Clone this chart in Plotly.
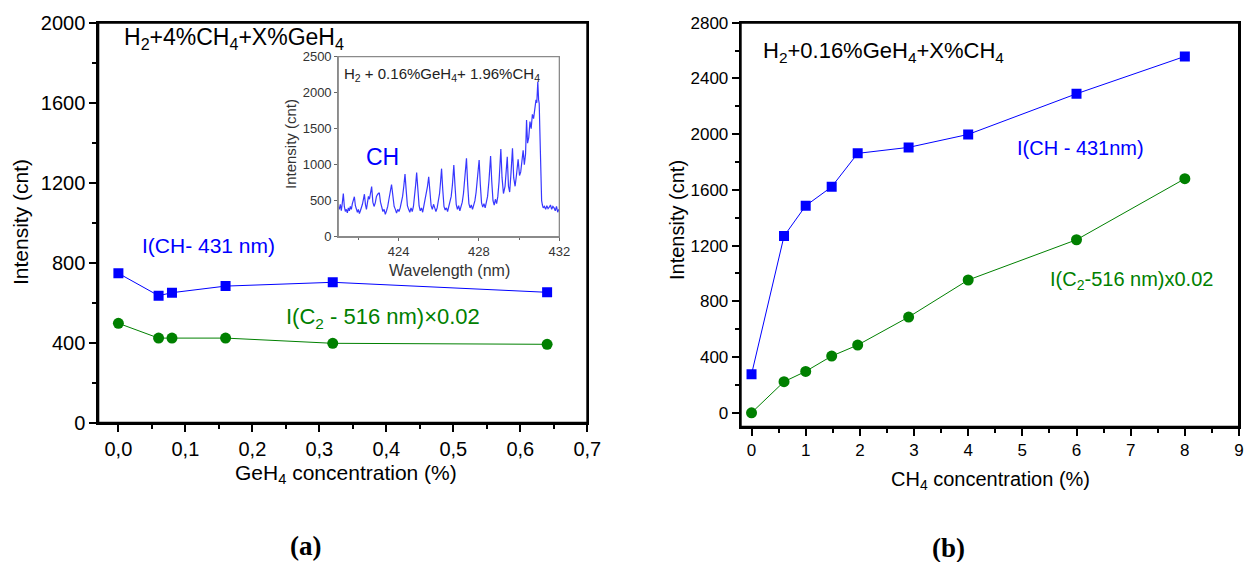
import plotly.graph_objects as go

# ---- (a) H2 + 4% CH4 + X% GeH4 ----
geh4_conc = [0.0, 0.06, 0.08, 0.16, 0.32, 0.64]
ch_431_a = [747, 635, 650, 683, 702, 652]
c2_516_a = [497, 423, 423, 423, 397, 392]
xa_tickvals = [0.0, 0.1, 0.2, 0.3, 0.4, 0.5, 0.6, 0.7]
xa_ticktext = ["0,0", "0,1", "0,2", "0,3", "0,4", "0,5", "0,6", "0,7"]

# ---- inset: CH emission band, H2 + 0.16% GeH4 + 1.96% CH4 ----
wavelength = [
    421.00, 421.05, 421.10, 421.15, 421.20, 421.25, 421.30, 421.35, 421.40, 421.45,
    421.50, 421.55, 421.60, 421.65, 421.70, 421.75, 421.80, 421.85, 421.90, 421.95,
    422.00, 422.05, 422.10, 422.15, 422.20, 422.25, 422.30, 422.35, 422.40, 422.45,
    422.50, 422.55, 422.60, 422.66, 422.72, 422.78, 422.84, 422.90, 422.96, 423.04,
    423.10, 423.16, 423.22, 423.28, 423.34, 423.40, 423.46, 423.52, 423.58, 423.65,
    423.72, 423.78, 423.84, 423.90, 423.96, 424.02, 424.08, 424.14, 424.20, 424.26,
    424.32, 424.38, 424.44, 424.50, 424.56, 424.62, 424.68, 424.74, 424.80, 424.85,
    424.90, 424.96, 425.02, 425.08, 425.14, 425.20, 425.26, 425.32, 425.38, 425.44,
    425.50, 425.56, 425.62, 425.68, 425.74, 425.80, 425.86, 425.92, 425.98, 426.04,
    426.09, 426.14, 426.20, 426.26, 426.32, 426.38, 426.44, 426.50, 426.56, 426.62,
    426.68, 426.75, 426.81, 426.87, 426.93, 426.99, 427.05, 427.11, 427.17, 427.23,
    427.30, 427.38, 427.44, 427.50, 427.56, 427.62, 427.68, 427.74, 427.80, 427.86,
    427.93, 428.01, 428.07, 428.13, 428.19, 428.25, 428.31, 428.37, 428.43, 428.50,
    428.58, 428.64, 428.70, 428.76, 428.82, 428.88, 428.94, 429.00, 429.09, 429.15,
    429.22, 429.30, 429.41, 429.47, 429.53, 429.60, 429.67, 429.73, 429.80, 429.87,
    429.95, 430.02, 430.08, 430.14, 430.20, 430.26, 430.32, 430.37, 430.42, 430.48,
    430.54, 430.60, 430.66, 430.72, 430.78, 430.84, 430.88, 430.93, 430.97, 431.00,
    431.03, 431.06, 431.09, 431.12, 431.16, 431.20, 431.26, 431.32, 431.38, 431.44,
    431.50, 431.56, 431.62, 431.68, 431.74, 431.80, 431.86, 431.92, 431.98,
]
spectrum_cnt = [
    420, 380, 450, 360, 470, 600, 420, 350, 380, 330,
    400, 360, 420, 380, 460, 500, 555, 430, 370, 340,
    380, 320, 360, 400, 450, 520, 590, 450, 380, 470,
    560, 520, 600, 695, 480, 420, 470, 560, 590, 610,
    480, 400, 350, 380, 310, 360, 420, 520, 620, 725,
    560, 420, 380, 330, 380, 350, 400, 470, 560, 700,
    870, 640, 430, 380, 340, 400, 350, 420, 560, 720,
    890, 640, 430, 360, 400, 340, 420, 500, 580, 700,
    833, 600, 430, 380, 450, 400, 350, 400, 480, 600,
    760, 945, 650, 420, 370, 400, 350, 420, 460, 560,
    720, 995, 700, 450, 380, 430, 360, 420, 480, 600,
    800, 1088, 720, 460, 400, 440, 380, 430, 500, 620,
    820, 1065, 720, 470, 410, 460, 400, 480, 560, 780,
    1120, 760, 500, 440, 520, 460, 560, 760, 1218, 820,
    600, 700, 1110, 700, 620, 900, 1227, 820, 700, 860,
    1075, 850, 900, 1050, 1200, 1000, 1150, 1620, 1300, 1380,
    1600, 1500, 1700, 1640, 1800, 1900, 1860, 2150, 1900, 1850,
    1500, 1000, 700, 500, 440, 400, 420, 380, 430, 390,
    410, 440, 380, 420, 400, 360, 420, 340, 380,
]

# ---- (b) H2 + 0.16% GeH4 + X% CH4 ----
ch4_conc = [0.0, 0.6, 1.0, 1.48, 1.96, 2.9, 4.0, 6.0, 8.0]
ch_431_b = [276, 1268, 1486, 1622, 1862, 1905, 1998, 2290, 2558]
c2_516_b = [0, 223, 297, 407, 486, 687, 953, 1242, 1680]

BLUE = "#0000FF"
GREEN = "#008000"
FONT = "Liberation Sans"
SERIF = "Liberation Serif"
W, H = 1244, 562


def px(x):
    return x / W


def py(y):
    return 1 - y / H


fig = go.Figure()

# panel (a)
fig.add_trace(go.Scatter(x=geh4_conc, y=ch_431_a, mode="lines+markers",
                         line=dict(color=BLUE, width=1),
                         marker=dict(symbol="square", size=10, color=BLUE),
                         xaxis="x", yaxis="y", showlegend=False))
fig.add_trace(go.Scatter(x=geh4_conc, y=c2_516_a, mode="lines+markers",
                         line=dict(color=GREEN, width=1),
                         marker=dict(symbol="circle", size=11, color=GREEN),
                         xaxis="x", yaxis="y", showlegend=False))

# inset spectrum
fig.add_trace(go.Scatter(x=wavelength, y=spectrum_cnt, mode="lines",
                         line=dict(color="rgba(20,20,255,0.85)", width=1.2),
                         xaxis="x2", yaxis="y2", showlegend=False))

# panel (b)
fig.add_trace(go.Scatter(x=ch4_conc, y=ch_431_b, mode="lines+markers",
                         line=dict(color=BLUE, width=1),
                         marker=dict(symbol="square", size=10, color=BLUE),
                         xaxis="x3", yaxis="y3", showlegend=False))
fig.add_trace(go.Scatter(x=ch4_conc, y=c2_516_b, mode="lines+markers",
                         line=dict(color=GREEN, width=1),
                         marker=dict(symbol="circle", size=11, color=GREEN),
                         xaxis="x3", yaxis="y3", showlegend=False))

axis_common = dict(showgrid=False, zeroline=False, showline=True, linecolor="black",
                   linewidth=2, mirror=True, ticks="outside", tickcolor="black",
                   tickwidth=1.5, ticklen=7, automargin=False)
inset_common = dict(showgrid=False, zeroline=False, showline=True, linecolor="#8a8a8a",
                    linewidth=1.2, mirror=True, ticks="outside", tickcolor="#666666",
                    ticklen=3, automargin=False,
                    tickfont=dict(size=13, color="#333333"))

fig.update_layout(
    width=W, height=H,
    margin=dict(l=0, r=0, t=0, b=0, autoexpand=False),
    paper_bgcolor="white", plot_bgcolor="white",
    font=dict(family=FONT, color="black"),
    xaxis=dict(**axis_common, domain=[px(98.3), px(587.3)], range=[-0.03, 0.7],
               tickvals=xa_tickvals, ticktext=xa_ticktext,
               tickfont=dict(size=20), anchor="y",
               minor=dict(ticks="outside", ticklen=4, tickcolor="black",
                          tick0=0.05, dtick=0.1)),
    yaxis=dict(**axis_common, domain=[py(422.7), py(22.7)], range=[0, 2000],
               tick0=0, dtick=400, tickfont=dict(size=20), anchor="x",
               minor=dict(ticks="outside", ticklen=4, tickcolor="black",
                          tick0=0, dtick=200)),
    xaxis2=dict(**inset_common, domain=[px(338.3), px(559.3)], range=[421, 432],
                tick0=424, dtick=4, anchor="y2",
                minor=dict(ticks="outside", ticklen=2, tickcolor="#666666",
                           tick0=422, dtick=2)),
    yaxis2=dict(**inset_common, domain=[py(236.7), py(56.7)], range=[0, 2500],
                tick0=0, dtick=500, anchor="x2"),
    xaxis3=dict(**axis_common, domain=[px(740.7), px(1239)], range=[-0.2, 9],
                tick0=0, dtick=1, tickfont=dict(size=17), anchor="y3",
                minor=dict(ticks="outside", ticklen=4, tickcolor="black",
                           tick0=0.5, dtick=1)),
    yaxis3=dict(**axis_common, domain=[py(426.7), py(22.7)], range=[-100, 2800],
                tick0=0, dtick=400, tickfont=dict(size=17), anchor="x3",
                minor=dict(ticks="outside", ticklen=4, tickcolor="black",
                           tick0=200, dtick=400)),
)

# frames around each plotting area
frames = [("x", "y", "black", 2), ("x2", "y2", "#8a8a8a", 1.2), ("x3", "y3", "black", 2)]
fig.update_layout(shapes=[
    dict(type="rect", xref=f"{xa} domain", yref=f"{ya} domain", x0=0, x1=1, y0=0, y1=1,
         line=dict(color=c, width=w), fillcolor="rgba(0,0,0,0)", layer="above")
    for xa, ya, c, w in frames
])

annotations = [
    # panel (a) texts
    dict(x=px(122), y=py(38), text="H<sub>2</sub>+4%CH<sub>4</sub>+X%GeH<sub>4</sub>",
         font=dict(size=23), xanchor="left"),
    dict(x=px(140), y=py(245), text="I(CH- 431 nm)", font=dict(size=21, color=BLUE),
         xanchor="left"),
    dict(x=px(284), y=py(318), text="I(C<sub>2</sub> - 516 nm)×0.02",
         font=dict(size=22, color=GREEN), xanchor="left"),
    dict(x=px(21), y=py(222), text="Intensity (cnt)", textangle=-90,
         font=dict(size=21)),
    dict(x=px(346), y=py(474), text="GeH<sub>4</sub> concentration (%)",
         font=dict(size=21)),
    # inset texts
    dict(x=px(342), y=py(74), text="H<sub>2</sub> + 0.16%GeH<sub>4</sub>+ 1.96%CH<sub>4</sub>",
         font=dict(size=15, color="#222222"), xanchor="left"),
    dict(x=px(382), y=py(157), text="CH", font=dict(size=23, color=BLUE)),
    dict(x=px(290), y=py(144), text="Intensity (cnt)", textangle=-90,
         font=dict(size=15, color="#333333")),
    dict(x=px(449), y=py(270), text="Wavelength (nm)",
         font=dict(size=16, color="#333333")),
    # panel (b) texts
    dict(x=px(761), y=py(52), text="H<sub>2</sub>+0.16%GeH<sub>4</sub>+X%CH<sub>4</sub>",
         font=dict(size=22), xanchor="left"),
    dict(x=px(1015), y=py(148), text="I(CH - 431nm)", font=dict(size=20, color=BLUE),
         xanchor="left"),
    dict(x=px(1048), y=py(280), text="I(C<sub>2</sub>-516 nm)x0.02",
         font=dict(size=20, color=GREEN), xanchor="left"),
    dict(x=px(677), y=py(220), text="Intensity (cnt)", textangle=-90,
         font=dict(size=20)),
    dict(x=px(990), y=py(480), text="CH<sub>4</sub> concentration (%)",
         font=dict(size=20)),
    # panel labels
    dict(x=px(305), y=py(546), text="<b>(a)</b>", font=dict(size=27, family=SERIF)),
    dict(x=px(948), y=py(548), text="<b>(b)</b>", font=dict(size=27, family=SERIF)),
]
for a in annotations:
    a.setdefault("xref", "paper")
    a.setdefault("yref", "paper")
    a.setdefault("showarrow", False)
    a.setdefault("xanchor", "center")
    a.setdefault("yanchor", "middle")
fig.update_layout(annotations=annotations)

fig.write_html("out.html")
